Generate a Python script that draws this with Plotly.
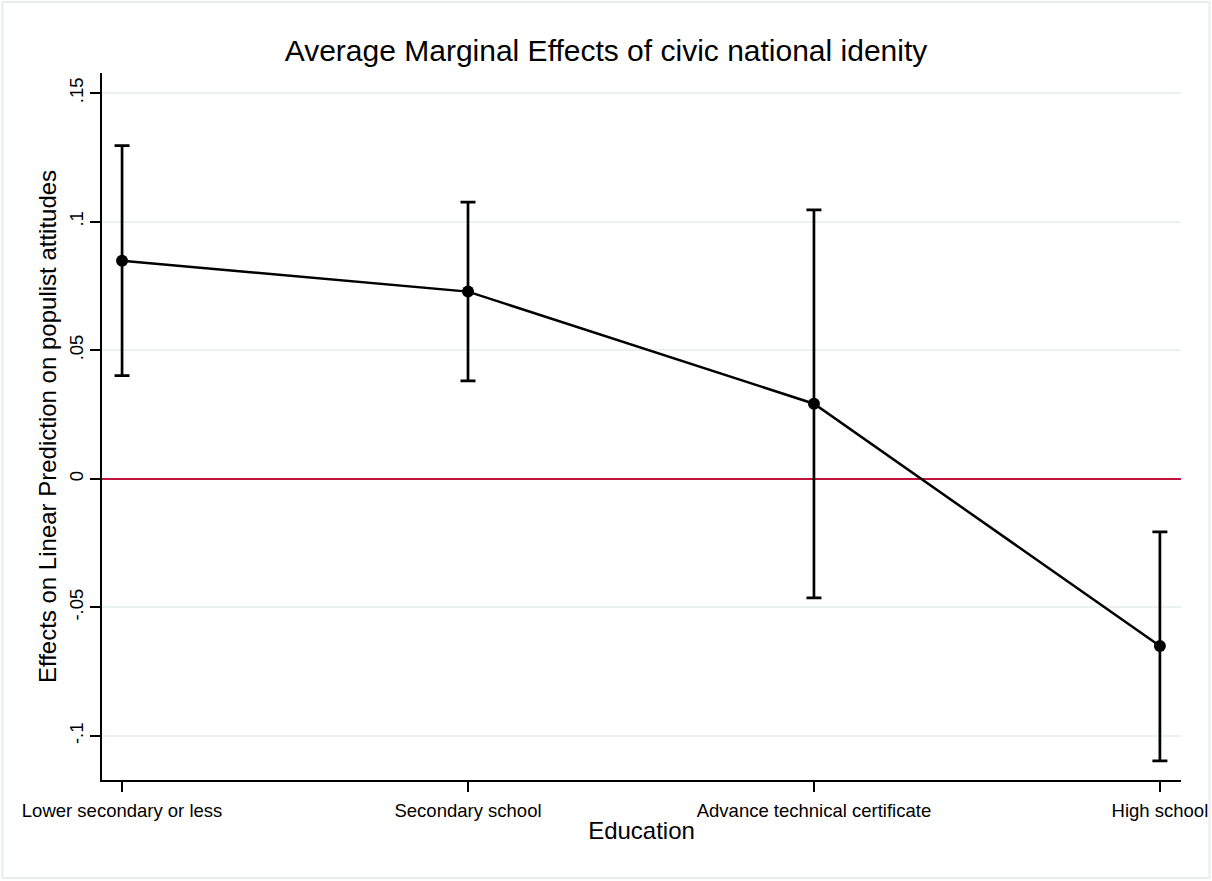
import plotly.graph_objects as go

categories = ["Lower secondary or less", "Secondary school", "Advance technical certificate", "High school"]
x_pos = [0, 1, 2, 3]
effects = [0.0848, 0.0728, 0.0292, -0.0650]
ci_upper = [0.1296, 0.1076, 0.1046, -0.0206]
ci_lower = [0.0401, 0.0381, -0.0463, -0.1097]
y_ticks = [-0.1, -0.05, 0, 0.05, 0.1, 0.15]
y_tick_labels = ["-.1", "-.05", "0", ".05", ".1", ".15"]

err_plus = [u - e for u, e in zip(ci_upper, effects)]
err_minus = [e - l for e, l in zip(effects, ci_lower)]

fig = go.Figure()
fig.add_trace(go.Scatter(
    x=x_pos, y=effects, mode="lines+markers",
    line=dict(color="black", width=2.5),
    marker=dict(color="black", size=12),
    error_y=dict(type="data", symmetric=False, array=err_plus, arrayminus=err_minus,
                 color="black", thickness=2.7, width=7.5),
    showlegend=False,
))

L, R, T, B = 102, 31, 73, 101
W, H = 1212, 881
pw, ph = W - L - R, H - T - B
fig.add_shape(type="rect", xref="paper", yref="paper",
              x0=(2.5 - L) / pw, x1=(1209.5 - L) / pw,
              y0=(H - B - 878) / ph, y1=(H - B - 2) / ph,
              line=dict(color="#e6edf1", width=2), layer="below")

fig.update_layout(
    width=W, height=H,
    margin=dict(l=L, r=R, t=T, b=B, autoexpand=False),
    paper_bgcolor="white", plot_bgcolor="white",
    font=dict(family="Liberation Sans, Arial, sans-serif", color="black"),
    title=dict(text="Average Marginal Effects of civic national idenity",
               x=0.5, xanchor="center", y=1 - 50 / H, yanchor="middle",
               font=dict(size=30, color="black")),
)
fig.update_xaxes(
    range=[-0.058, 3.061], tickvals=x_pos, ticktext=categories,
    showgrid=False, zeroline=False, automargin=False,
    showline=True, linecolor="black", linewidth=1.5,
    ticks="outside", ticklen=10, tickwidth=1.5, tickcolor="black",
    tickfont=dict(size=18.5), ticklabelstandoff=3,
    title=dict(text="Education", font=dict(size=24), standoff=2),
)
fig.update_yaxes(
    range=[-0.1171, 0.1578], tickvals=y_ticks, ticktext=y_tick_labels,
    tickangle=-90, showgrid=True, gridcolor="#eaf1f3", gridwidth=2,
    zeroline=True, zerolinecolor="#c0143c", zerolinewidth=2, automargin=False,
    showline=True, linecolor="black", linewidth=1.5,
    ticks="outside", ticklen=10, tickwidth=1.5, tickcolor="black",
    tickfont=dict(size=18.5),
    title=dict(text="Effects on Linear Prediction on populist attitudes", font=dict(size=24), standoff=2),
)

post = ("document.documentElement.style.overflow='hidden';"
        "document.body.style.margin='0';document.body.style.padding='0';"
        "document.body.style.overflow='hidden';"
        "var gd=document.getElementById('{plot_id}');"
        "Plotly.relayout(gd,{width:%d,height:%d});" % (W, H))
fig.write_html("out.html", config={"displayModeBar": False}, post_script=post)
